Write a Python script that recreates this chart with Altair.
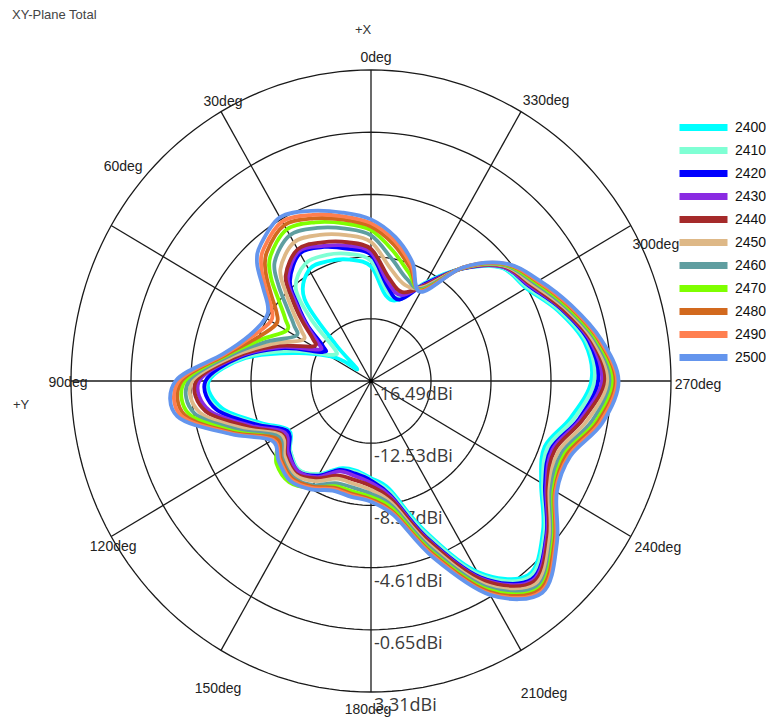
import altair as alt
import pandas as pd

# ---------------- data ----------------
angles = [0, 10, 20, 30, 40, 45, 50, 55, 60, 70, 80, 90, 100, 110, 120, 130, 140, 150,
          160, 170, 180, 190, 200, 210, 220, 230, 240, 250, 260, 270, 280, 290, 300,
          310, 320, 330, 340, 350]

g2400 = [-9.2, -8.65, -8.36, -8.31, -9.66, -13.15, -15.3, -14.27, -13.33, -11.3, -8.08, -5.79, -6.51, -8.72, -10.22, -9.54, -9.09, -9.63, -10.57, -10.7, -10.3, -9.5, -6.45, -2.47, -0.35, -1.67, -3.53, -4.29, -3.1, -1.95, -2.19, -3.37, -4.67, -5.26, -7.16, -9.24, -10.97, -10.94]
g2410 = [-8.84, -8.28, -7.95, -7.85, -8.76, -10.85, -13.4, -13.55, -13.12, -10.88, -7.93, -5.64, -6.21, -8.52, -10.12, -9.54, -9.09, -9.63, -10.47, -10.6, -10.2, -9.3, -6.25, -2.27, -0.2, -1.52, -3.38, -4.09, -2.85, -1.75, -2.04, -3.27, -4.57, -5.21, -7.16, -9.29, -10.87, -10.59]
g2420 = [-8.45, -7.95, -7.41, -7.11, -8.17, -9.65, -11.07, -12.62, -12.8, -10.37, -7.73, -5.57, -6.11, -8.42, -10.12, -9.44, -8.99, -9.53, -10.47, -10.5, -10.15, -9.1, -5.95, -2.07, 0.0, -1.37, -3.23, -3.84, -2.55, -1.5, -1.89, -3.12, -4.42, -5.16, -7.16, -9.34, -10.97, -10.34]
g2430 = [-8.3, -7.74, -7.34, -6.96, -7.95, -9.45, -10.87, -12.2, -12.49, -10.17, -7.58, -5.15, -5.66, -8.12, -9.92, -9.34, -8.99, -9.43, -10.37, -10.35, -10.0, -9.0, -5.85, -1.97, 0.1, -1.32, -3.13, -3.74, -2.45, -1.25, -1.79, -3.07, -4.37, -5.16, -7.14, -9.44, -10.67, -10.09]
g2440 = [-8.09, -7.52, -7.1, -6.81, -7.73, -9.15, -10.57, -11.8, -12.08, -9.97, -7.48, -4.95, -5.41, -7.92, -9.72, -9.14, -8.79, -9.33, -10.07, -10.1, -9.8, -8.85, -5.75, -1.87, 0.2, -1.22, -3.03, -3.59, -2.3, -1.05, -1.69, -3.02, -4.27, -5.11, -7.13, -9.49, -10.47, -9.79]
g2450 = [-7.64, -7.06, -6.59, -6.31, -7.19, -8.55, -9.87, -10.88, -11.27, -9.57, -7.28, -4.69, -5.01, -7.62, -9.62, -9.04, -8.69, -9.13, -9.87, -9.85, -9.55, -8.6, -5.45, -1.57, 0.4, -1.07, -2.88, -3.34, -2.0, -0.85, -1.59, -2.87, -4.17, -5.06, -7.11, -9.59, -9.97, -9.19]
g2460 = [-7.22, -6.64, -6.12, -5.77, -6.6, -7.85, -9.27, -10.28, -10.76, -9.17, -7.08, -4.47, -4.66, -7.32, -9.42, -8.84, -8.49, -8.83, -9.57, -9.6, -9.3, -8.4, -5.25, -1.37, 0.6, -0.87, -2.73, -3.09, -1.7, -0.65, -1.44, -2.77, -4.02, -5.01, -7.1, -9.69, -9.57, -8.59]
g2470 = [-6.89, -6.3, -5.74, -5.35, -6.15, -7.15, -8.57, -9.58, -10.06, -8.77, -6.88, -4.21, -4.31, -7.02, -9.12, -8.34, -8.09, -8.63, -9.37, -9.35, -9.1, -8.2, -5.0, -1.17, 0.75, -0.77, -2.58, -2.89, -1.45, -0.5, -1.34, -2.67, -3.92, -4.96, -7.08, -9.79, -9.17, -8.09]
g2480 = [-6.65, -6.06, -5.47, -5.04, -5.79, -6.65, -7.87, -8.88, -9.26, -8.47, -6.78, -3.99, -4.01, -6.82, -9.22, -8.74, -8.39, -8.73, -9.27, -9.2, -8.95, -8.0, -4.85, -1.02, 0.85, -0.67, -2.48, -2.74, -1.3, -0.35, -1.24, -2.57, -3.82, -4.91, -7.07, -9.84, -8.87, -7.69]
g2490 = [-6.44, -5.84, -5.23, -4.77, -5.48, -6.25, -7.47, -8.48, -8.86, -8.17, -6.68, -3.81, -3.76, -6.72, -9.02, -8.64, -8.29, -8.63, -9.17, -9.1, -8.85, -7.9, -4.7, -0.87, 1.0, -0.57, -2.43, -2.59, -1.15, -0.25, -1.19, -2.52, -3.77, -4.88, -7.06, -9.89, -8.67, -7.44]
g2500 = [-6.2, -5.6, -4.96, -4.46, -5.16, -5.85, -7.17, -8.18, -8.46, -7.97, -6.58, -3.59, -3.51, -6.62, -8.92, -8.54, -8.19, -8.53, -9.07, -9.0, -8.8, -7.8, -4.55, -0.77, 1.1, -0.47, -2.33, -2.49, -1.0, -0.15, -1.09, -2.42, -3.67, -4.86, -7.06, -9.94, -8.47, -7.19]

freqs = ["2400", "2410", "2420", "2430", "2440", "2450", "2460", "2470", "2480", "2490", "2500"]
series = [g2400, g2410, g2420, g2430, g2440, g2450, g2460, g2470, g2480, g2490, g2500]
colors = ["#00FFFF", "#7FFFD4", "#0000FF", "#8A2BE2", "#A52A2A", "#DEB887",
          "#5F9EA0", "#7FFF00", "#D2691E", "#FF7F50", "#6495ED"]

ring_values = [-16.49, -12.53, -8.57, -4.61, -0.65, 3.31]
ring_labels = ["-16.49dBi", "-12.53dBi", "-8.57dBi", "-4.61dBi", "-0.65dBi", "3.31dBi"]
spoke_angles = [0, 30, 60, 90, 120, 150, 180, 210, 240, 270, 300, 330]
spoke_labels = ["0deg", "30deg", "60deg", "90deg", "120deg", "150deg", "180deg",
                "210deg", "240deg", "270deg", "300deg", "330deg"]

# layout only: pixel nudge of each angle label from the end of its spoke
label_nudge = {
    "0deg": (5, -12), "30deg": (2, -10), "60deg": (12, -59), "90deg": (-3, 2),
    "120deg": (2, 10), "150deg": (-3, 39), "180deg": (-3, 18), "210deg": (23, 44),
    "240deg": (27, 11), "270deg": (27, 4), "300deg": (25, 19), "330deg": (25, -11),
}

RMIN = ring_values[0]
RMAX = ring_values[-1]
SPAN = RMAX - RMIN

for s in series:
    assert len(s) == len(angles)

# ---------------- tables ----------------
rows = []
for f, s in zip(freqs, series):
    for i, (a, g) in enumerate(zip(angles, s)):
        rows.append({"freq": f, "angle": a, "gain": g, "idx": i})
curves = pd.DataFrame(rows)

ring_rows = []
for v in ring_values[1:]:
    for j, a in enumerate(range(0, 361, 2)):
        ring_rows.append({"ring": v, "angle": a, "gain": v, "idx": j})
rings = pd.DataFrame(ring_rows)

spokes = pd.DataFrame({
    "angle": spoke_angles,
    "lab": spoke_labels,
    "nx": [label_nudge[l][0] for l in spoke_labels],
    "ny": [label_nudge[l][1] for l in spoke_labels],
})
rlabels = pd.DataFrame({"gain": ring_values, "lab": ring_labels})

W, H = 600, 622
xs = alt.Scale(domain=[-SPAN, SPAN], nice=False, zero=False)
ys = alt.Scale(domain=[-SPAN, SPAN], nice=False, zero=False)


def polar(ch):
    return ch.transform_calculate(
        r=f"max(datum.gain - ({RMIN}), 0)",
    ).transform_calculate(
        px="-datum.r * sin(datum.angle * PI / 180)",
        py="datum.r * cos(datum.angle * PI / 180)",
    )


ring_layer = polar(alt.Chart(rings)).mark_line(
    stroke="#1a1a1a", strokeWidth=1.3
).encode(
    x=alt.X("px:Q", scale=xs, axis=None),
    y=alt.Y("py:Q", scale=ys, axis=None),
    detail="ring:N",
    order="idx:Q",
)

spoke_layer = alt.Chart(spokes).transform_calculate(
    x0="0", y0="0",
    x1=f"-{SPAN} * sin(datum.angle * PI / 180)",
    y1=f"{SPAN} * cos(datum.angle * PI / 180)",
).mark_rule(stroke="#1a1a1a", strokeWidth=1.3).encode(
    x=alt.X("x0:Q", scale=xs, axis=None),
    y=alt.Y("y0:Q", scale=ys, axis=None),
    x2="x1:Q",
    y2="y1:Q",
)

center_dot = alt.Chart(pd.DataFrame({"px": [0.0], "py": [0.0]})).mark_point(
    filled=True, size=22, color="#000", opacity=1
).encode(
    x=alt.X("px:Q", scale=xs, axis=None),
    y=alt.Y("py:Q", scale=ys, axis=None),
)

kx = SPAN / (W / 2.0)
ky = SPAN / (H / 2.0)
angle_text = alt.Chart(spokes).transform_calculate(
    t="datum.angle * PI / 180",
).transform_calculate(
    lx=f"-{SPAN} * sin(datum.t) + datum.nx * {kx}",
    ly=f"{SPAN} * cos(datum.t) - datum.ny * {ky}",
).mark_text(
    align="center", baseline="middle", font="Liberation Sans", fontSize=14, color="#222"
).encode(
    x=alt.X("lx:Q", scale=xs, axis=None),
    y=alt.Y("ly:Q", scale=ys, axis=None),
    text="lab:N",
)

radial_text = alt.Chart(rlabels).transform_calculate(
    px="0",
    py=f"-(datum.gain - ({RMIN}))",
).mark_text(
    align="left", baseline="middle", dx=3, dy=14, font="Open Sans", fontSize=18, color="#3a3a3a"
).encode(
    x=alt.X("px:Q", scale=xs, axis=None),
    y=alt.Y("py:Q", scale=ys, axis=None),
    text="lab:N",
)

curve_layer = polar(alt.Chart(curves)).mark_line(
    strokeWidth=3.8, interpolate="cardinal-closed", strokeCap="round", strokeJoin="round"
).encode(
    x=alt.X("px:Q", scale=xs, axis=None),
    y=alt.Y("py:Q", scale=ys, axis=None),
    color=alt.Color(
        "freq:N",
        scale=alt.Scale(domain=freqs, range=colors),
        legend=alt.Legend(
            title=None, orient="none", legendX=624, legendY=49,
            symbolType="M-4.8,0H4.8", symbolSize=100, symbolStrokeWidth=7,
            labelFont="Liberation Sans", labelFontSize=14, labelColor="#111",
            labelOffset=23, rowPadding=-6, padding=0,
        ),
    ),
    order="idx:Q",
)

notes = pd.DataFrame({"t": ["XY-Plane Total"]})
title_text = alt.Chart(notes).mark_text(
    align="left", baseline="middle", font="Liberation Sans", fontSize=13, color="#444"
).encode(x=alt.value(-59), y=alt.value(-55), text="t:N")

xlab = alt.Chart(pd.DataFrame({"t": ["+X"]})).mark_text(
    align="center", baseline="middle", font="Liberation Sans", fontSize=13, color="#333"
).encode(x=alt.value(292), y=alt.value(-40), text="t:N")

ylab = alt.Chart(pd.DataFrame({"t": ["+Y"]})).mark_text(
    align="left", baseline="middle", font="Liberation Sans", fontSize=13, color="#333"
).encode(x=alt.value(-58), y=alt.value(335), text="t:N")

chart = alt.layer(
    ring_layer, spoke_layer, center_dot, radial_text, angle_text, curve_layer,
    title_text, xlab, ylab,
).properties(
    width=W, height=H,
    autosize=alt.AutoSizeParams(type="none"),
    padding={"left": 63, "top": 62, "right": 95, "bottom": 30},
    background="white",
).configure_view(stroke=None)

chart.save("out.html", embed_options={"renderer": "svg", "actions": False})
